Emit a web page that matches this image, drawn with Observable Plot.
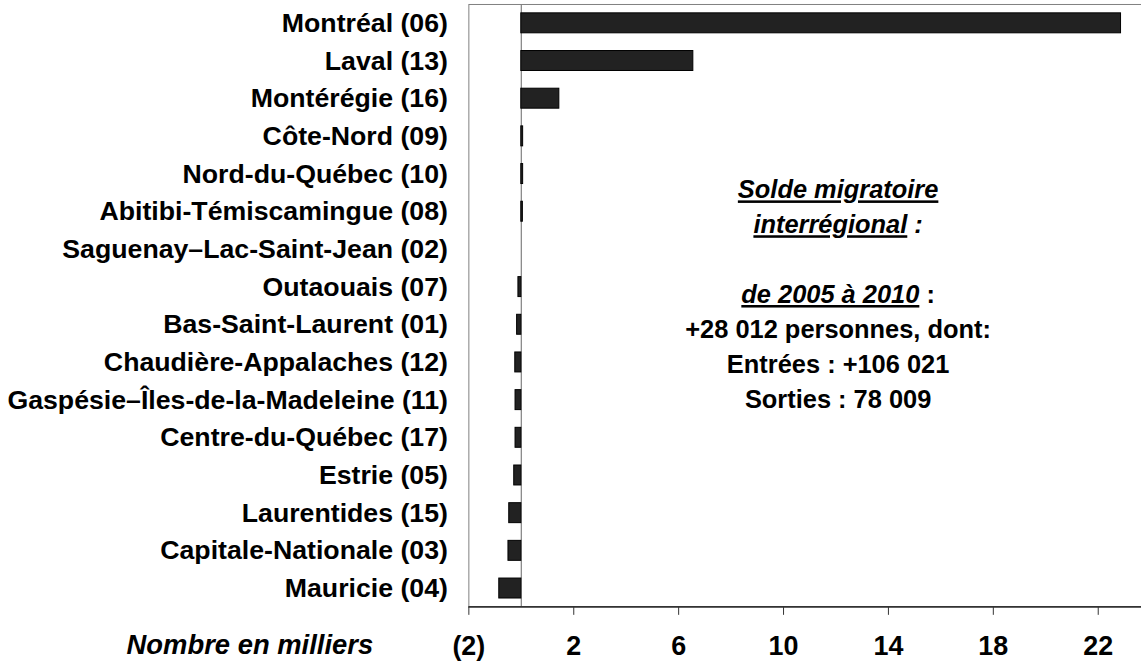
<!DOCTYPE html>
<html>
<head>
<meta charset="utf-8">
<script src="https://cdn.jsdelivr.net/npm/d3@7"></script>
<script src="https://cdn.jsdelivr.net/npm/@observablehq/plot@0.6"></script>
<style>
  html, body { margin: 0; padding: 0; background: #fff; overflow: hidden; }
  #chart { width: 1141px; height: 664px; overflow: hidden; }
</style>
</head>
<body>
<div id="chart"></div>
<script>
const regions = [
  "Montréal (06)", "Laval (13)", "Montérégie (16)", "Côte-Nord (09)",
  "Nord-du-Québec (10)", "Abitibi-Témiscamingue (08)", "Saguenay–Lac-Saint-Jean (02)",
  "Outaouais (07)", "Bas-Saint-Laurent (01)", "Chaudière-Appalaches (12)",
  "Gaspésie–Îles-de-la-Madeleine (11)", "Centre-du-Québec (17)", "Estrie (05)",
  "Laurentides (15)", "Capitale-Nationale (03)", "Mauricie (04)"
];
const soldes = [22.87, 6.56, 1.45, 0.07, 0.07, 0.06, 0.0, -0.11, -0.16, -0.23, -0.22, -0.22, -0.27, -0.46, -0.49, -0.84];
const xTicks = [-2, 2, 6, 10, 14, 18, 22];
const axisTitle = "Nombre en milliers";
const noteLines = [
  [{t: "Solde migratoire", u: true}],
  [{t: "interrégional", u: true}, {t: " :", i: true}],
  [],
  [{t: "de 2005 à 2010", u: true}, {t: " :", i: false}],
  [{t: "+28 012 personnes, dont:", i: false}],
  [{t: "Entrées : +106 021", i: false}],
  [{t: "Sorties : 78 009", i: false}]
];

const data = regions.map((r, k) => ({region: r, value: soldes[k]}));
const FONT = "'Liberation Sans', Arial, Helvetica, sans-serif";
const fmt = d => d < 0 ? `(${-d})` : `${d}`;

const chart = Plot.plot({
  width: 1145,
  height: 664,
  marginLeft: 470,
  marginRight: 0,
  marginTop: 4,
  marginBottom: 55,
  style: {fontFamily: FONT, fontSize: "26px", fontWeight: "bold", color: "#000", background: "#fff"},
  x: {domain: [-2, 23.65], ticks: xTicks, tickFormat: fmt},
  y: {domain: regions, paddingInner: 0.47, paddingOuter: 0.235, round: false},
  marks: [
    Plot.frame({stroke: "#808080"}),
    Plot.ruleX([0], {stroke: "#808080", strokeWidth: 1.2}),
    Plot.barX(data, {x: "value", y: "region", fill: "#222", stroke: "#000", strokeWidth: 1}),
    Plot.axisX({ticks: xTicks, tickSize: 8, tickPadding: 21, stroke: "#333", fontSize: 27, fontWeight: "bold", label: null, tickFormat: fmt}),
    Plot.axisY({tickSize: 0, tickPadding: 21, fontSize: 26.8, fontWeight: "bold", label: null}),
    Plot.text([axisTitle], {frameAnchor: "bottom-left", dx: -96, dy: 47, text: d => d, textAnchor: "end", fontSize: 27.5, fontWeight: "bold", fontStyle: "italic"})
  ]
});

document.getElementById("chart").appendChild(chart);

const svg = d3.select(chart);
const xs = chart.scale("x");
const ys = chart.scale("y");
const x0 = xs.range[0], x1 = xs.range[1];
const yBottom = ys.range[1];
// darker x-axis baseline
svg.append("line")
  .attr("x1", x0).attr("x2", x1)
  .attr("y1", yBottom).attr("y2", yBottom)
  .attr("stroke", "#333").attr("stroke-width", 1.5);

// annotation text block
const cx = xs.apply(12.1);
const startY = ys.apply("Nord-du-Québec (10)") + ys.bandwidth / 2 + 16;
const lineH = 35;
const g = svg.append("g")
  .attr("font-family", FONT)
  .attr("font-size", 25.5)
  .attr("font-weight", "bold")
  .attr("fill", "#000")
  .attr("text-anchor", "middle");
noteLines.forEach((parts, k) => {
  if (!parts.length) return;
  const t = g.append("text")
    .attr("x", cx)
    .attr("y", startY + k * lineH)
    .attr("dy", "0.35em");
  parts.forEach(p => {
    const s = t.append("tspan").text(p.t);
    if (p.u) s.attr("font-style", "italic").attr("text-decoration", "underline");
    else if (p.i) s.attr("font-style", "italic");
  });
});
</script>
</body>
</html>
